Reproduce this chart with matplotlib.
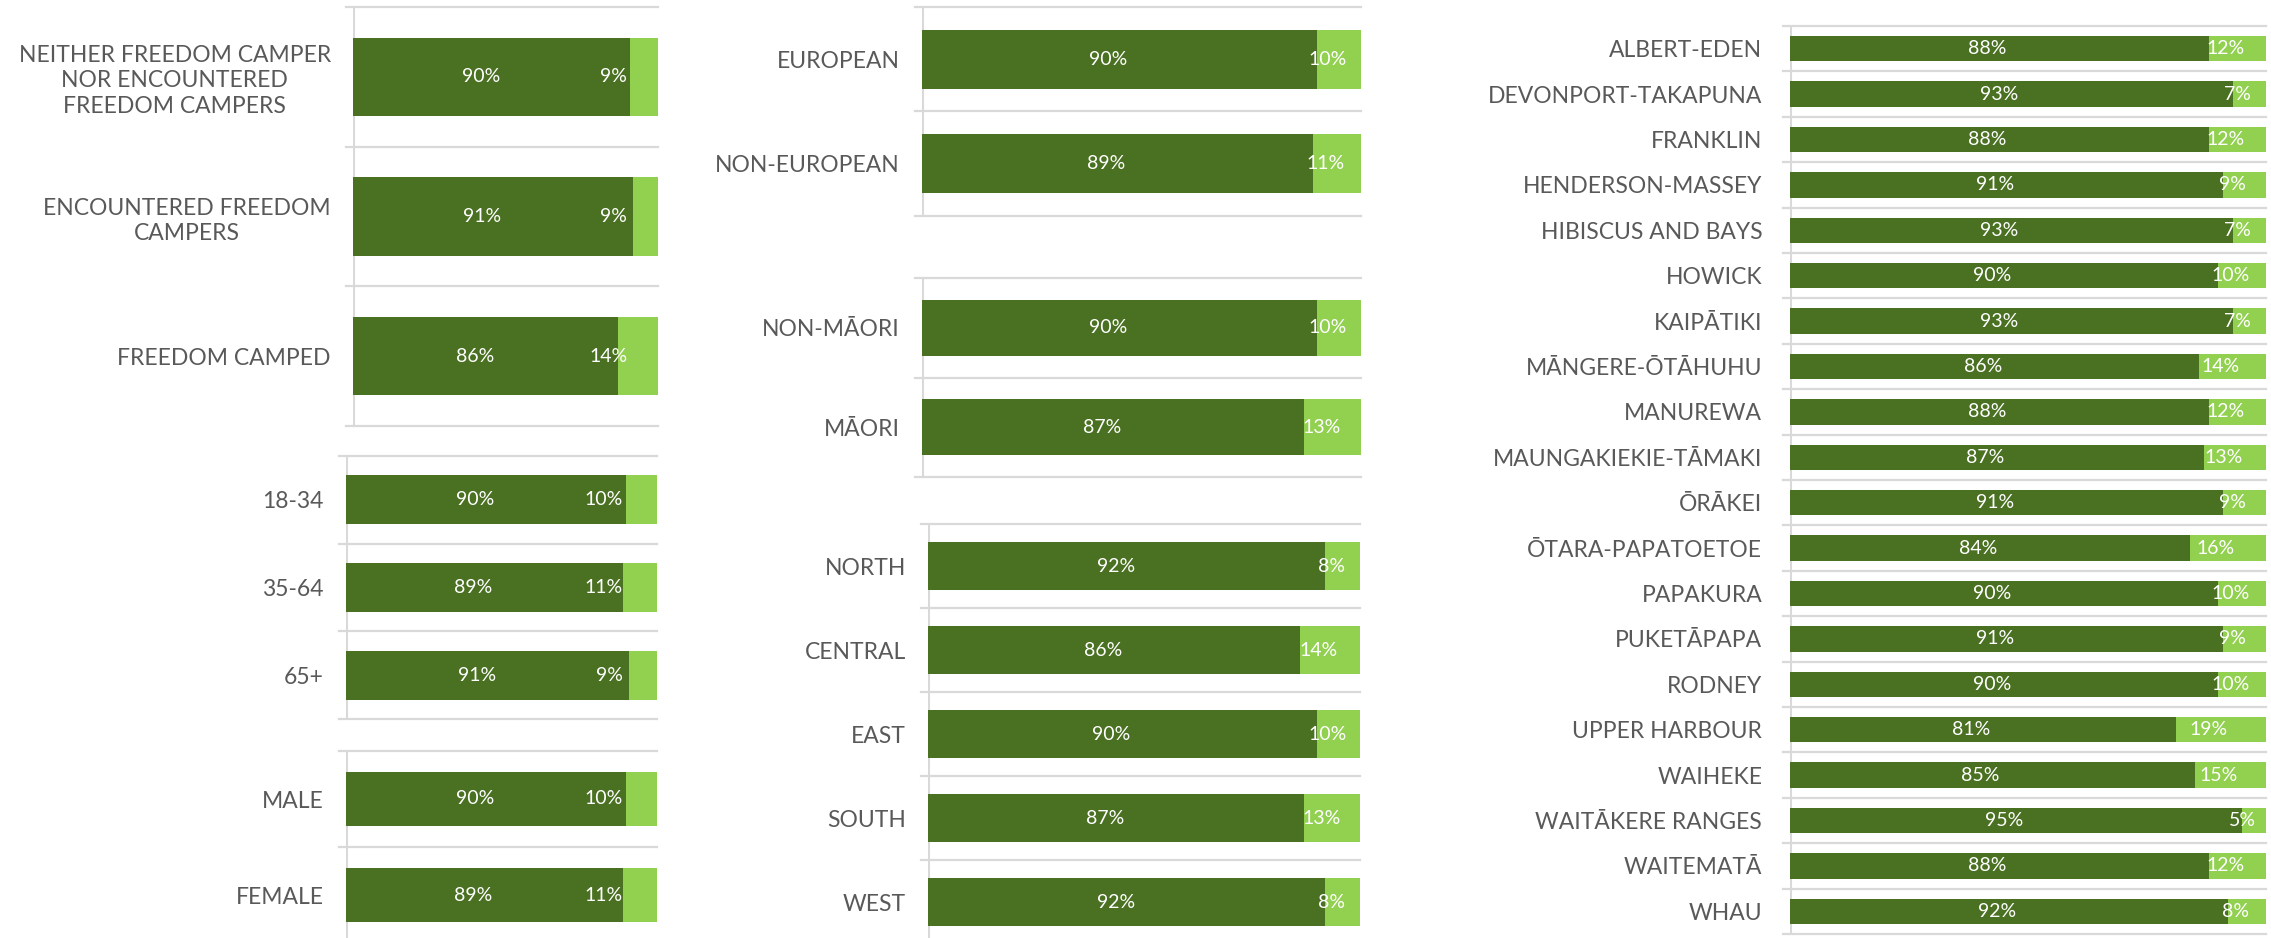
import matplotlib
matplotlib.use('Agg')
import matplotlib.pyplot as plt

plt.rcParams['font.family'] = ['Lato', 'DejaVu Sans']

# --- data ---
status_labels = ['NEITHER FREEDOM CAMPER\nNOR ENCOUNTERED\nFREEDOM CAMPERS',
                 'ENCOUNTERED FREEDOM\nCAMPERS', 'FREEDOM CAMPED']
status_yes = [90, 91, 86]
status_no = [9, 9, 14]

age_labels = ['18-34', '35-64', '65+']
age_yes = [90, 89, 91]
age_no = [10, 11, 9]

gender_labels = ['MALE', 'FEMALE']
gender_yes = [90, 89]
gender_no = [10, 11]

ethnicity_labels = ['EUROPEAN', 'NON-EUROPEAN']
ethnicity_yes = [90, 89]
ethnicity_no = [10, 11]

maori_labels = ['NON-MĀORI', 'MĀORI']
maori_yes = [90, 87]
maori_no = [10, 13]

ward_labels = ['NORTH', 'CENTRAL', 'EAST', 'SOUTH', 'WEST']
ward_yes = [92, 86, 90, 87, 92]
ward_no = [8, 14, 10, 13, 8]

board_labels = ['ALBERT-EDEN', 'DEVONPORT-TAKAPUNA', 'FRANKLIN', 'HENDERSON-MASSEY',
                'HIBISCUS AND BAYS', 'HOWICK', 'KAIPĀTIKI', 'MĀNGERE-ŌTĀHUHU',
                'MANUREWA', 'MAUNGAKIEKIE-TĀMAKI', 'ŌRĀKEI', 'ŌTARA-PAPATOETOE',
                'PAPAKURA', 'PUKETĀPAPA', 'RODNEY', 'UPPER HARBOUR', 'WAIHEKE',
                'WAITĀKERE RANGES', 'WAITEMATĀ', 'WHAU']
board_yes = [88, 93, 88, 91, 93, 90, 93, 86, 88, 87, 91, 84, 90, 91, 90, 81, 85, 95, 88, 92]
board_no = [12, 7, 12, 9, 7, 10, 7, 14, 12, 13, 9, 16, 10, 9, 10, 19, 15, 5, 12, 8]

DARK = '#4A7021'
LIGHT = '#92D050'
GRID = '#D9D9D9'
TEXT = '#595959'

W, H = 2271, 938
fig = plt.figure(figsize=(W / 100, H / 100), dpi=100)


def panel(x0, x1, y_top, y_bot, labels, yes, no, xmax=100,
          yes_shift=-2.5, no_shift=-2.5, no_right=None, pad=16):
    # place axes by pixel box
    ax = fig.add_axes([x0 / W, 1 - y_bot / H, (x1 - x0) / W, (y_bot - y_top) / H])
    n = len(labels)
    pos = list(range(n))
    ax.barh(pos, yes, height=0.56, color=DARK, zorder=2)
    ax.barh(pos, no, left=yes, height=0.56, color=LIGHT, zorder=2)
    ax.set_xlim(0, xmax)
    ax.set_ylim(n - 0.5, -0.5)
    for s in ax.spines.values():
        s.set_visible(False)
    ax.set_xticks([])
    ax.set_yticks(pos)
    ax.set_yticklabels(labels, fontsize=16.5, color=TEXT, linespacing=1.25)
    for t in ax.get_yticklabels():
        t.set_multialignment('center')
    ax.tick_params(axis='y', length=0, pad=pad)

    ext = -7 / (x1 - x0)
    for k in range(n + 1):
        ax.plot([ext, 1], [k - 0.5, k - 0.5], transform=ax.get_yaxis_transform(),
                color=GRID, lw=1.6, clip_on=False, zorder=1)
    ax.axvline(0, color=GRID, lw=2.2, zorder=1)

    for i in pos:
        ax.text(yes[i] / 2 + yes_shift, i, f'{yes[i]}%', ha='center', va='center',
                color='white', fontsize=14, zorder=3)
        if no_right is not None:
            ax.text(no_right, i, f'{no[i]}%', ha='right', va='center',
                    color='white', fontsize=14, zorder=3)
        else:
            ax.text(yes[i] + no[i] / 2 + no_shift, i, f'{no[i]}%', ha='center',
                    va='center', color='white', fontsize=14, zorder=3)
    return ax


panel(353, 658, 7, 426, status_labels, status_yes, status_no, xmax=99,
      yes_shift=-3.5, no_right=89)
panel(346, 657, 456, 719, age_labels, age_yes, age_no, yes_shift=-3.5, no_right=89)
panel(346, 657, 751, 943, gender_labels, gender_yes, gender_no, yes_shift=-3.5, no_right=89)

panel(922, 1361, 7, 216, ethnicity_labels, ethnicity_yes, ethnicity_no)
panel(922, 1361, 278, 477, maori_labels, maori_yes, maori_no)
panel(928, 1360, 524, 944, ward_labels, ward_yes, ward_no)

panel(1790, 2266, 26, 934, board_labels, board_yes, board_no, pad=20)

fig.savefig('out.png', dpi=100, facecolor='white')
